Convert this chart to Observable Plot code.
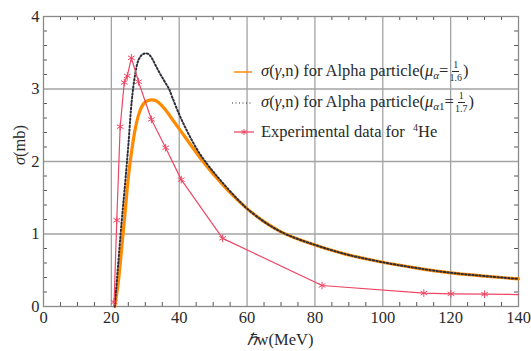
<!DOCTYPE html>
<html>
<head>
<meta charset="utf-8">
<script src="https://cdn.jsdelivr.net/npm/d3@7"></script>
<script src="https://cdn.jsdelivr.net/npm/@observablehq/plot@0.6"></script>
<style>
  html, body { margin: 0; padding: 0; background: #fff; }
  #wrap { position: relative; width: 531px; height: 351px; font-family: "Liberation Serif", "Times New Roman", serif; color: #2a2a2a; }
  #wrap svg text { font-family: "Liberation Serif", "Times New Roman", serif; font-size: 16.5px; fill: #2a2a2a; }
  .lab { position: absolute; font-size: 16.5px; white-space: nowrap; line-height: 1; }
  #legend { position: absolute; left: 232px; top: 58px; font-size: 16.5px; }
  .row { position: absolute; left: 0; height: 28px; display: flex; align-items: center; white-space: nowrap; }
  .row svg { flex: none; margin-right: 5px; }
  .frac { display: inline-flex; flex-direction: column; align-items: center; font-size: 10px; line-height: 1; vertical-align: middle; margin: 0 1px; position: relative; top: -1px; }
  .frac .num { border-bottom: 1px solid #2a2a2a; padding: 0 1px 1px; }
  .frac .den { padding-top: 1px; }
  i { font-style: italic; }
  sub { font-size: 11px; vertical-align: -3px; line-height: 0; }
  sup { font-size: 10px; vertical-align: 6px; line-height: 0; }
</style>
</head>
<body>
<div id="wrap"></div>
<script>
// ---- data ----
const xTicks = [0, 20, 40, 60, 80, 100, 120, 140];
const yTicks = [0, 1, 2, 3, 4];
const xMinor = d3.range(0, 141, 5).filter(v => v % 20 !== 0);
const yMinor = d3.range(0, 4.01, 0.2).map(v => +v.toFixed(1)).filter(v => Math.abs(v - Math.round(v)) > 0.01);

// sigma(gamma,n), mu_alpha = 1/1.6
const orangeX = [21, 22, 23, 24, 25, 26, 27, 28, 29, 30, 31, 32, 33, 34, 35, 36, 38, 40, 42, 44, 46, 48, 50, 55, 60, 65, 70, 75, 80, 85, 90, 100, 110, 120, 130, 140];
const orangeY = [0, 0.32, 0.78, 1.27, 1.78, 2.15, 2.44, 2.64, 2.76, 2.82, 2.845, 2.85, 2.84, 2.81, 2.765, 2.71, 2.58, 2.45, 2.32, 2.19, 2.06, 1.94, 1.83, 1.57, 1.35, 1.17, 1.03, 0.93, 0.85, 0.775, 0.71, 0.61, 0.53, 0.465, 0.42, 0.38];

// sigma(gamma,n), mu_alpha1 = 1/1.7
const dotX = [21, 22, 23, 24, 25, 26, 27, 28, 29, 30, 31, 32, 33, 34, 35, 36, 37, 38, 40, 42, 44, 46, 48, 50, 52, 55, 58, 60, 65, 70, 75, 80, 85, 90, 100, 110, 120, 130, 140];
const dotY = [0, 0.58, 1.15, 1.67, 2.22, 2.83, 3.2, 3.4, 3.47, 3.49, 3.48, 3.42, 3.33, 3.24, 3.16, 3.08, 3.0, 2.88, 2.65, 2.45, 2.27, 2.11, 1.98, 1.86, 1.75, 1.59, 1.44, 1.35, 1.17, 1.03, 0.93, 0.85, 0.775, 0.71, 0.61, 0.53, 0.465, 0.42, 0.38];

// Experimental data for 4He
const expX = [20.8, 21.6, 22.6, 23.8, 24.7, 25.9, 28.0, 31.8, 36.0, 40.6, 52.8, 82.1, 112.1, 120.1, 130.0, 140];
const expY = [0.06, 1.19, 2.48, 3.09, 3.18, 3.43, 3.10, 2.58, 2.19, 1.75, 0.94, 0.29, 0.185, 0.175, 0.17, 0.165];
const expMarked = expX.map(x => x < 140);

const cOrange = "#ff8a00", cDot = "#2e2e3a", cRed = "#ee4664", cGrid = "#a3a3a3";

const chart = Plot.plot({
  width: 531, height: 351,
  marginLeft: 43, marginRight: 13, marginTop: 16, marginBottom: 45,
  x: { domain: [0, 140] },
  y: { domain: [0, 4] },
  style: { fontFamily: "'Liberation Serif', 'Times New Roman', serif", fontSize: "16.5px", color: "#2a2a2a", background: "transparent", overflow: "visible" },
  marks: [
    Plot.ruleX(xTicks.slice(1, -1), { stroke: cGrid, strokeWidth: 1.3 }),
    Plot.ruleY(yTicks.slice(1, -1), { stroke: cGrid, strokeWidth: 1.3 }),
    Plot.ruleX(xMinor, { y1: 0, y2: 0.055, stroke: "#555", strokeWidth: 1 }),
    Plot.ruleX(xMinor, { y1: 3.945, y2: 4, stroke: "#555", strokeWidth: 1 }),
    Plot.ruleY(yMinor, { x1: 0, x2: 1.15, stroke: "#555", strokeWidth: 1 }),
    Plot.ruleY(yMinor, { x1: 138.85, x2: 140, stroke: "#555", strokeWidth: 1 }),
    Plot.frame({ stroke: "#8a8a8a", strokeWidth: 1.3 }),
    Plot.line(orangeY, { x: orangeX, y: orangeY, stroke: cOrange, strokeWidth: 3.2, curve: "catmull-rom" }),
    Plot.line(dotY, { x: dotX, y: dotY, stroke: cDot, strokeWidth: 2, strokeDasharray: "1.4 2.2", curve: "catmull-rom" }),
    Plot.line(expY, { x: expX, y: expY, stroke: cRed, strokeWidth: 1.2 }),
    Plot.dot(expY, { x: expX, y: expY, filter: expMarked, symbol: "asterisk", r: 3.6, stroke: cRed, strokeWidth: 1 }),
    Plot.axisX(xTicks, { tickSize: 0, tickPadding: 5, label: null, tickFormat: d => String(d) }),
    Plot.axisY(yTicks, { tickSize: 0, tickPadding: 4, label: null, tickFormat: d => String(d) })
  ]
});

const wrap = document.getElementById("wrap");
wrap.appendChild(chart);

// axis titles
const xl = document.createElement("div");
xl.className = "lab";
xl.innerHTML = "<i>ℏ</i>w(MeV)";
xl.style.left = "280px"; xl.style.top = "340px";
xl.style.transform = "translate(-50%,-50%)";
wrap.appendChild(xl);

const yl = document.createElement("div");
yl.className = "lab";
yl.innerHTML = "<i>σ</i>(mb)";
yl.style.left = "20px"; yl.style.top = "145px";
yl.style.transform = "translate(-50%,-50%) rotate(-90deg)";
wrap.appendChild(yl);

// legend
const legend = document.createElement("div");
legend.id = "legend";
legend.innerHTML = `
  <div class="row" style="top:0px">
    <svg width="24" height="10"><line x1="2" y1="5" x2="20" y2="5" stroke="${cOrange}" stroke-width="1.5"/></svg>
    <span><i>σ</i>(<i>γ</i>,n) for Alpha particle(<i>μ</i><sub><i>α</i></sub>=<span class="frac"><span class="num">1</span><span class="den">1.6</span></span>)</span>
  </div>
  <div class="row" style="top:31px">
    <svg width="24" height="10"><line x1="0" y1="5" x2="20" y2="5" stroke="${cDot}" stroke-width="1.2" stroke-dasharray="1 2.5"/></svg>
    <span><i>σ</i>(<i>γ</i>,n) for Alpha particle(<i>μ</i><sub><i>α</i>1</sub>=<span class="frac"><span class="num">1</span><span class="den">1.7</span></span>)</span>
  </div>
  <div class="row" style="top:60px">
    <svg width="24" height="10"><line x1="2" y1="5" x2="22" y2="5" stroke="${cRed}" stroke-width="1.3"/>
      <g stroke="${cRed}" stroke-width="1" transform="translate(12,5)"><line x1="0" y1="-3" x2="0" y2="3"/><line x1="-2.6" y1="-1.5" x2="2.6" y2="1.5"/><line x1="-2.6" y1="1.5" x2="2.6" y2="-1.5"/></g></svg>
    <span>Experimental data for &nbsp;<sup>4</sup>He</span>
  </div>`;
wrap.appendChild(legend);
</script>
</body>
</html>
